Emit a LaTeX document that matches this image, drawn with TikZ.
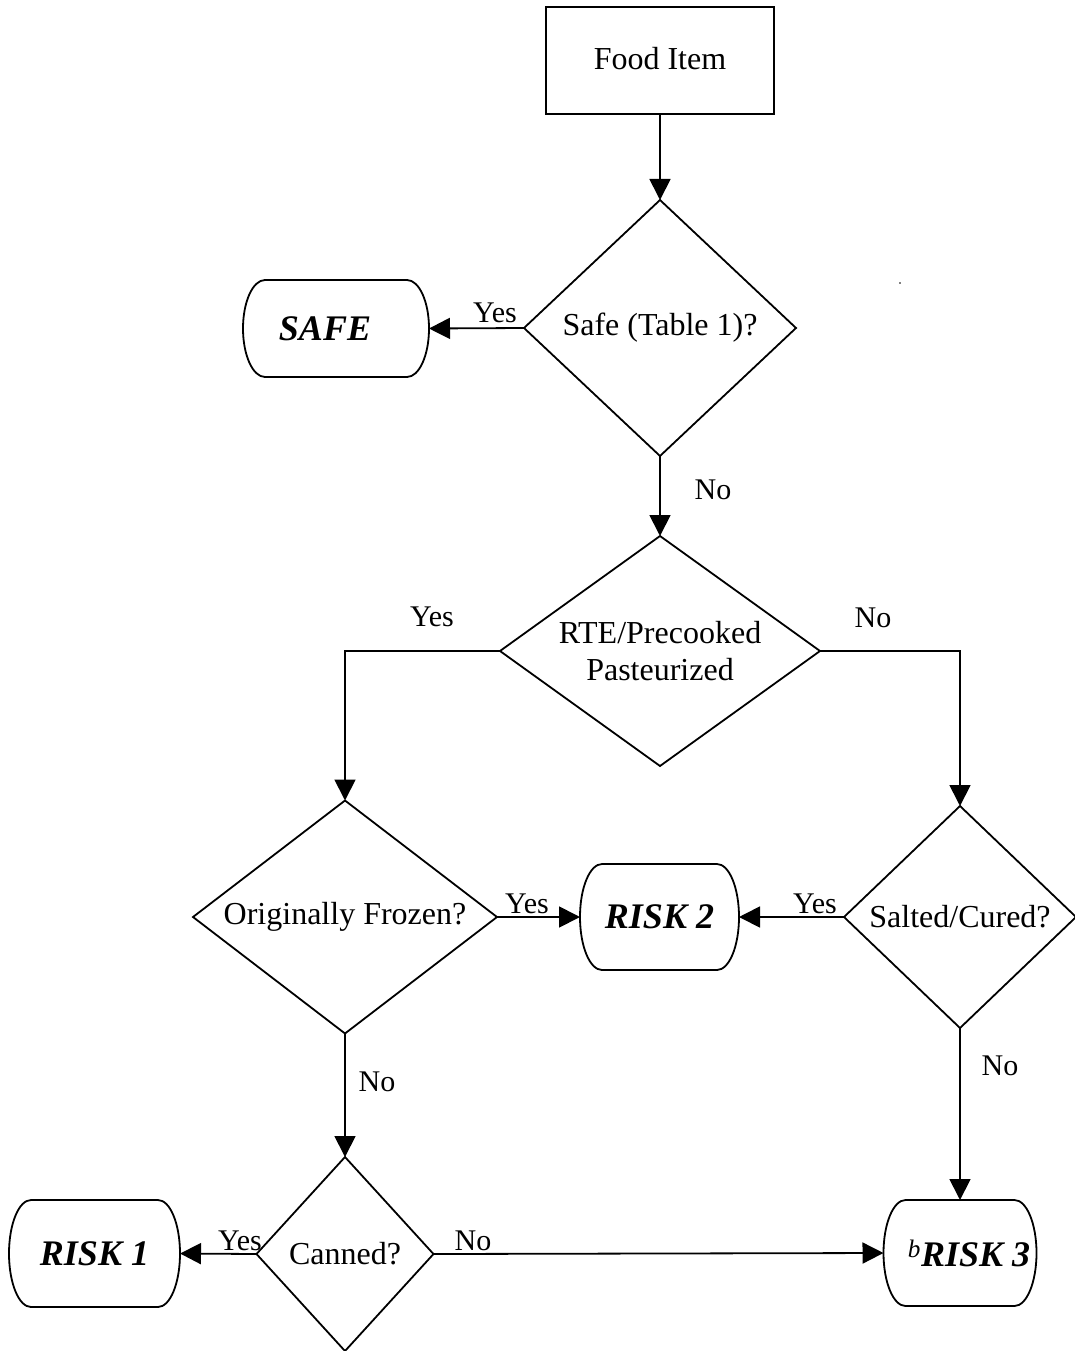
\documentclass[tikz,border=0pt]{standalone}
\usepackage{fontspec}
\setmainfont{Liberation Serif}
\usetikzlibrary{arrows.meta,shapes.geometric}
\tikzset{
  conn/.style={line width=1.8pt, -{Triangle[length=21pt,width=21pt]}},
  procbox/.style={rectangle, draw, line width=1.8pt, inner sep=0pt, outer sep=0pt, font=\fontsize{32}{37}\selectfont},
  dec/.style={diamond, draw, line width=1.8pt, inner sep=0pt, outer sep=0pt, aspect=1.4, font=\fontsize{32}{37}\selectfont, align=center},
  termbox/.style={rectangle, inner sep=0pt, outer sep=0pt, font=\fontsize{36}{40}\selectfont\bfseries\itshape},
  lbl/.style={anchor=base, inner sep=0pt, font=\fontsize{30}{34}\selectfont},
}
\newcommand\termoutline[2]{%
  \draw[line width=1.8pt] ([xshift=22pt]#1.north west) -- ([xshift=-22pt]#1.north east)
    arc[start angle=90,end angle=-90,x radius=22pt,y radius=#2pt]
    -- ([xshift=22pt]#1.south west)
    arc[start angle=270,end angle=90,x radius=22pt,y radius=#2pt] -- cycle;}
\begin{document}
\begin{tikzpicture}[x=1pt,y=1pt]
\useasboundingbox (0,0) rectangle (1075,-1351);

% nodes
\node[procbox, minimum width=228pt, minimum height=107pt] (food) at (660,-60.7) {\raisebox{5pt}{Food Item}};
\node[dec, minimum width=272pt, minimum height=256pt] (d1) at (660,-328) {Safe (Table 1)?};
\node[termbox, minimum width=186pt, minimum height=97pt] (safe) at (336,-328.5) {SAFE\hspace*{22pt}};
\node[dec, minimum width=320pt, minimum height=230pt] (d2) at (660,-651) {RTE/Precooked\\Pasteurized};
\node[dec, minimum width=304pt, minimum height=233pt] (d3) at (345,-917) {Originally Frozen?};
\node[termbox, minimum width=159pt, minimum height=106pt] (risk2) at (659.5,-917) {RISK 2};
\node[dec, minimum width=232pt, minimum height=222pt] (d4) at (960,-917) {Salted/Cured?};
\node[dec, minimum width=177pt, minimum height=194pt] (d5) at (345,-1254) {Canned?};
\node[termbox, minimum width=171pt, minimum height=107pt] (risk1) at (94.5,-1253.5) {RISK 1};
\node[termbox, minimum width=153pt, minimum height=106pt] (risk3) at (960,-1253) {\hspace*{18pt}\textsuperscript{\mdseries b}RISK 3};

\termoutline{safe}{48.5}
\termoutline{risk1}{53.5}
\termoutline{risk2}{53}
\termoutline{risk3}{53}

% stray dot
\fill (900,-283) circle (0.9pt);

% connectors
\draw[conn] (food.south) -- (d1.north);
\draw[conn] (d1.west) -- (safe.east);
\draw[conn] (d1.south) -- (d2.north);
\draw[conn] (d2.west) -| (d3.north);
\draw[conn] (d2.east) -| (d4.north);
\draw[conn] (d3.east) -- (risk2.west);
\draw[conn] (d4.west) -- (risk2.east);
\draw[conn] (d3.south) -- (d5.north);
\draw[conn] (d4.south) -- (risk3.north);
\draw[conn] (d5.west) -- (risk1.east);
\draw[conn] (d5.east) -- (risk3.west);

% labels
\node[lbl] (l1) at (495,-322) {Yes};
\node[lbl] (l2) at (713,-499) {No};
\node[lbl] (l3) at (432,-626) {Yes};
\node[lbl] (l4) at (873,-627) {No};
\node[lbl] (l5) at (527,-913) {Yes};
\node[lbl] (l6) at (815,-913) {Yes};
\node[lbl] (l7) at (377,-1091) {No};
\node[lbl] (l8) at (1000,-1075) {No};
\node[lbl] (l9) at (240,-1250) {Yes};
\node[lbl] (l10) at (473,-1250) {No};
\end{tikzpicture}
\end{document}
